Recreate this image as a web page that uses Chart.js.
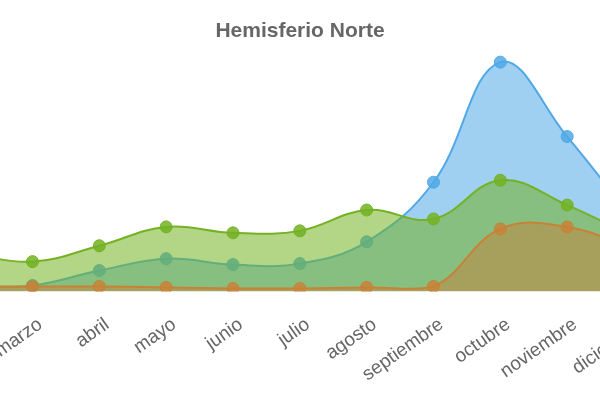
<!DOCTYPE html>
<html>
<head>
<meta charset="utf-8">
<script src="https://cdn.jsdelivr.net/npm/chart.js@4.4.0/dist/chart.umd.min.js"></script>
<style>
  html, body { margin: 0; padding: 0; width: 600px; height: 400px; overflow: hidden; background: #fff; }
  #wrap { position: absolute; left: -155px; top: 0; width: 910px; height: 400px; }
</style>
</head>
<body>
<div id="wrap"><canvas id="chartNorte" width="910" height="400"></canvas></div>
<script>
const meses = ['enero', 'febrero', 'marzo', 'abril', 'mayo', 'junio', 'julio', 'agosto', 'septiembre', 'octubre', 'noviembre', 'diciembre'];

// valores (estimados)
const serieAzul    = [0.5, 0.5, 0.6, 2.1, 3.3, 2.7, 2.8, 5.0, 11.0, 23.1, 15.6, 7.1];
const serieVerde   = [4.3, 3.8, 3.0, 4.6, 6.5, 5.9, 6.1, 8.2, 7.3, 11.2, 8.7, 5.5];
const serieNaranja = [0.5, 0.5, 0.5, 0.5, 0.4, 0.3, 0.3, 0.4, 0.5, 6.3, 6.5, 4.3];

document.addEventListener('DOMContentLoaded', function() {
  const ctx = document.getElementById('chartNorte').getContext('2d');

  function serie(label, data, rgb, alpha) {
    return {
      label: label,
      data: data,
      fill: 'origin',
      tension: 0.4,
      borderWidth: 2,
      borderColor: 'rgb(' + rgb + ')',
      backgroundColor: 'rgba(' + rgb + ',' + alpha + ')',
      pointRadius: 6,
      pointBorderWidth: 1,
      pointBackgroundColor: 'rgba(' + rgb + ',0.85)',
      pointBorderColor: 'rgb(' + rgb + ')'
    };
  }

  new Chart(ctx, {
    type: 'line',
    data: {
      labels: meses,
      // el primero se dibuja encima
      datasets: [
        serie('Serie 3', serieNaranja, '200,130,55', 0.5),
        serie('Serie 2', serieVerde, '115,178,35', 0.55),
        serie('Serie 1', serieAzul, '80,168,230', 0.55)
      ]
    },
    options: {
      responsive: false,
      animation: false,
      layout: { padding: { top: 9, left: 0, right: 0, bottom: 0 } },
      plugins: {
        legend: { display: false },
        tooltip: { enabled: false },
        title: {
          display: true,
          text: 'Hemisferio Norte',
          color: '#666',
          font: { family: 'Liberation Sans, Arial, sans-serif', size: 21, weight: 'bold' },
          padding: { top: 10, bottom: 9 }
        }
      },
      scales: {
        x: {
          grid: { display: false },
          border: { display: false },
          ticks: {
            color: '#666',
            minRotation: 35,
            maxRotation: 35,
            padding: 14,
            labelOffset: 8,
            font: { family: 'Liberation Sans, Arial, sans-serif', size: 19 }
          }
        },
        y: {
          position: 'right',
          min: 0,
          max: 24,
          grid: { display: false },
          border: { display: false },
          ticks: { display: false },
          // espacio vacio a la derecha (la parte recortada del grafico)
          afterFit: function(scale) { scale.width = 121; }
        }
      }
    }
  });
});
</script>
</body>
</html>
